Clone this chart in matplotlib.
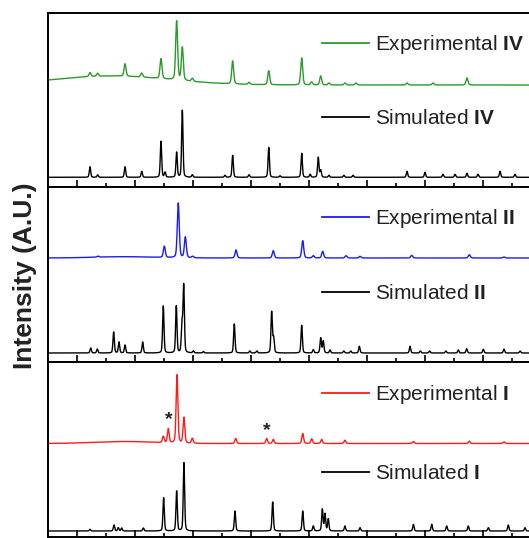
import numpy as np
import matplotlib
matplotlib.use("Agg")
import matplotlib.pyplot as plt
from matplotlib.ticker import MultipleLocator

plt.rcParams['font.family'] = ['Liberation Sans', 'DejaVu Sans']
plt.rcParams['mathtext.fontset'] = 'custom'
plt.rcParams['mathtext.rm'] = 'Liberation Sans'
plt.rcParams['mathtext.bf'] = 'Liberation Sans:bold'

# ---------------- data (2theta in degrees, intensity in A.U.) ----------------
exp4_pos = [6.12, 6.78, 9.14, 10.58, 12.24, 13.59, 14.08, 14.94, 18.42, 19.83, 21.53,
            24.37, 25.23, 26.01, 26.72, 28.10, 29.05, 33.45, 35.69, 38.62]
exp4_int = [4, 3, 12.5, 4, 20, 59, 33, 3, 23, 2, 14,
            27, 3, 9, 2, 2, 2, 2, 2, 7]
exp4_hump = (8.0, 9.0, 12.0)      # center, height, fwhm of amorphous background
exp4_base = 102.0

sim4_pos = [6.12, 6.78, 9.14, 10.58, 12.24, 12.59, 13.59, 14.08, 14.94, 17.76, 18.42,
            19.83, 21.53, 22.5, 24.37, 25.10, 25.80, 26.01, 26.72, 28.0, 28.8,
            33.45, 35.0, 36.55, 37.59, 38.62, 39.57, 41.47, 42.76]
sim4_int = [10.6, 2.5, 10.6, 6, 36, 5, 25, 67, 2.5, 2, 22,
            2.5, 30, 1.5, 24, 3, 20, 7, 2, 2, 2,
            6, 5, 3, 3, 4, 3, 6, 3]
sim4_base = 9.7

exp2_pos = [6.81, 12.53, 13.73, 14.34, 14.97, 18.71, 21.92, 24.46, 25.37, 26.18,
            28.19, 29.40, 33.85, 38.82, 41.8]
exp2_int = [1, 11.3, 54.7, 20.7, 1.5, 8, 7.3, 17.3, 2.3, 6.7,
            2.3, 1.7, 2.7, 3.3, 1]
exp2_hump = (9.0, 1.3, 6.0)
exp2_base = 104.0

sim2_pos = [6.18, 6.75, 8.16, 8.62, 9.14, 10.66, 12.44, 13.56, 14.05, 14.20, 15.03,
            15.9, 18.56, 19.9, 20.5, 21.78, 21.95, 24.37, 25.37, 26.01, 26.23, 26.81,
            28.0, 28.6, 29.34, 33.71, 34.6, 35.4, 36.8, 37.87, 38.59, 40.03, 41.81, 43.2]
sim2_int = [5, 4, 21, 11, 8, 11, 47, 47, 28, 67, 2,
            1.5, 29, 2, 2, 41, 15, 27.7, 3.3, 15, 12, 3,
            2, 2, 6.7, 6.7, 2, 2, 2, 3, 4.3, 3.7, 3.7, 2]
sim2_base = 9.0

exp1_pos = [12.44, 12.87, 13.62, 14.22, 14.94, 18.68, 21.35, 21.92, 24.46, 25.23,
            26.09, 28.10, 34.0, 38.82, 41.81]
exp1_int = [6.3, 14, 68.3, 25.7, 5, 5, 5, 4, 10, 4.7,
            4, 3.3, 2, 2.3, 1.7]
exp1_hump = (9.0, 2.0, 6.0)
exp1_base = 93.5

sim1_pos = [6.12, 8.19, 8.56, 8.85, 10.72, 12.47, 13.59, 14.22, 18.62, 21.87, 24.46,
            25.37, 26.15, 26.38, 26.66, 28.10, 29.40, 34.0, 35.58, 36.87, 38.73,
            40.46, 42.18, 43.62]
sim1_int = [1.7, 6, 3.3, 3, 3, 33.3, 40, 68.3, 20, 29, 20,
            5, 21.7, 17, 12, 5, 3.3, 6.7, 6.7, 5, 5,
            3.3, 6, 3.3]
sim1_base = 6.0

star_pos = [12.87, 21.35]
star_y = [117, 106]

labels = [("Experimental ", "IV"), ("Simulated ", "IV"),
          ("Experimental ", "II"), ("Simulated ", "II"),
          ("Experimental ", "I"), ("Simulated ", "I")]

# ---------------- drawing ----------------
W, H = 529, 538
fig = plt.figure(figsize=(W / 100, H / 100), dpi=100)
fig.patch.set_facecolor('white')

x = np.linspace(2.5, 46, 6000)


def profile(pos, inten, fwhm, base, hump=None, eta=0.3):
    y = np.full_like(x, base, dtype=float)
    for p, h in zip(pos, inten):
        g = np.exp(-4 * np.log(2) * ((x - p) / fwhm) ** 2)
        l = 1.0 / (1.0 + 4 * ((x - p) / fwhm) ** 2)
        y += h * ((1 - eta) * g + eta * l)
    if hump is not None:
        c, hh, w = hump
        y += hh * np.exp(-4 * np.log(2) * ((x - c) / w) ** 2)
    return y


x0_px, x1_px = 48, 541
left = x0_px / W
width = (x1_px - x0_px) / W
panel_px = [(13, 187), (187, 362), (362, 537)]

traces = [
    [(exp4_pos, exp4_int, 0.20, exp4_base, exp4_hump, '#2a9a2a'),
     (sim4_pos, sim4_int, 0.14, sim4_base, None, 'black')],
    [(exp2_pos, exp2_int, 0.20, exp2_base, exp2_hump, '#1a1aff'),
     (sim2_pos, sim2_int, 0.14, sim2_base, None, 'black')],
    [(exp1_pos, exp1_int, 0.18, exp1_base, exp1_hump, '#ff1a1a'),
     (sim1_pos, sim1_int, 0.14, sim1_base, None, 'black')],
]

axes = []
for (top, bot), tr in zip(panel_px, traces):
    ax = fig.add_axes([left, 1 - bot / H, width, (bot - top) / H])
    for pos, inten, fw, base, hump, col in tr:
        ax.plot(x, profile(pos, inten, fw, base, hump), color=col, lw=1.0)
    ax.set_xlim(2.5, 45)
    ax.set_ylim(0, bot - top)
    ax.xaxis.set_major_locator(MultipleLocator(5))
    ax.xaxis.set_minor_locator(MultipleLocator(2.5))
    ax.tick_params(axis='x', which='major', direction='in', length=5, width=1.2,
                   labelbottom=False, top=False)
    ax.tick_params(axis='x', which='minor', direction='in', length=3, width=1.2, top=False)
    ax.set_yticks([])
    for s in ax.spines.values():
        s.set_linewidth(1.4)
    axes.append(ax)

# asterisks on experimental I
for xs, ys in zip(star_pos, star_y):
    axes[2].text(xs, ys, "*", ha='center', va='center', fontsize=14,
                 fontweight='bold', color='#222222')

# legend-like labels
label_y_px = [43, 117, 217, 292, 393, 472]
label_cols = ['#2a9a2a', 'black', '#1a1aff', 'black', '#ff1a1a', 'black']
for (txt, num), ypx, col in zip(labels, label_y_px, label_cols):
    yf = 1 - ypx / H
    fig.add_artist(plt.Line2D([322 / W, 369 / W], [yf, yf], color=col, lw=1.3,
                              transform=fig.transFigure))
    fig.text(375 / W, 1 - (ypx + 7.3) / H, txt + r"$\mathbf{" + num + "}$",
             fontsize=15, ha='left', va='baseline', color='#222222')

fig.text(25 / W, 1 - 276 / H, "Intensity (A.U.)", rotation=90, ha='center',
         va='center', fontsize=19, fontweight='bold', color='#222222')

fig.savefig("out.png", dpi=100, facecolor='white')
